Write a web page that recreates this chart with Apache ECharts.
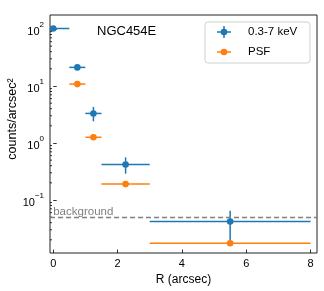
<!DOCTYPE html>
<html>
<head>
<meta charset="utf-8">
<script src="https://cdn.jsdelivr.net/npm/echarts@6/dist/echarts.min.js"></script>
<style>html,body{margin:0;padding:0;background:#fff;}#c{width:324px;height:291px;}</style>
</head>
<body>
<div id="c"></div>
<script>
// ---- data ----
const radius = [0, 0.75, 1.25, 2.25, 5.5];          // arcsec, bin centres
const radiusErr = [0.5, 0.25, 0.25, 0.75, 2.5];     // half bin widths
const bandValue = [102, 21.2, 3.3, 0.42, 0.042];    // 0.3-7 keV counts/arcsec^2
const bandLow = [95, 19.5, 2.4, 0.29, 0.018];
const bandHigh = [110, 23, 4.3, 0.56, 0.065];
const psfValue = [null, 10.8, 1.26, 0.19, 0.0174];  // PSF counts/arcsec^2
const backgroundLevel = 0.046;
const xTicks = [0, 2, 4, 6, 8];
const yMinorTicks = [0.02,0.03,0.04,0.05,0.06,0.07,0.08,0.09,
                     0.2,0.3,0.4,0.5,0.6,0.7,0.8,0.9,
                     2,3,4,5,6,7,8,9,20,30,40,50,60,70,80,90];
const X_MIN = -0.1, X_MAX = 8.2;
const Y_MIN = 0.01175, Y_MAX = 176;

const BLUE = '#1f77b4', ORANGE = '#ff7f0e';
const FONT = 'Liberation Sans';

const bandData = radius.map((r, i) => [r, bandValue[i], radiusErr[i], bandLow[i], bandHigh[i]]);
const psfData = radius.map((r, i) => [r, psfValue[i], radiusErr[i]]).filter(d => d[1] != null);

function errRender(color) {
  return function (params, api) {
    const x = api.value(0), y = api.value(1), xe = api.value(2);
    const ylo = api.value(3), yhi = api.value(4);
    const xl = Math.max(x - xe, X_MIN), xr = Math.min(x + xe, X_MAX);
    const pL = api.coord([xl, y]), pR = api.coord([xr, y]), pC = api.coord([x, y]);
    const children = [{
      type: 'line', shape: {x1: pL[0], y1: pL[1], x2: pR[0], y2: pR[1]},
      style: {stroke: color, lineWidth: 1.5}
    }];
    if (!isNaN(ylo) && !isNaN(yhi)) {
      const pT = api.coord([x, yhi]), pB = api.coord([x, ylo]);
      children.push({type: 'line', shape: {x1: pT[0], y1: pT[1], x2: pB[0], y2: pB[1]},
        style: {stroke: color, lineWidth: 1.5}});
    }
    children.push({type: 'circle', shape: {cx: pC[0], cy: pC[1], r: 3.3}, style: {fill: color}});
    return {type: 'group', children};
  };
}

function minorRender(params, api) {
  const p = api.coord([X_MIN, api.value(0)]);
  return {type: 'line', shape: {x1: p[0], y1: p[1], x2: p[0] + 2, y2: p[1]},
    style: {stroke: '#000', lineWidth: 0.8}};
}

const chart = echarts.init(document.getElementById('c'), null, {renderer: 'canvas'});
chart.setOption({
  animation: false,
  textStyle: {fontFamily: FONT},
  grid: {left: 50, right: 7, top: 15, bottom: 38, outerBoundsMode: 'none', containLabel: false,
    show: true, borderColor: '#222', borderWidth: 1, backgroundColor: 'transparent'},
  xAxis: {
    type: 'value', min: X_MIN, max: X_MAX,
    name: 'R (arcsec)', nameLocation: 'middle', nameGap: 21, nameMoveOverlap: false,
    nameTextStyle: {fontSize: 12, color: '#000', fontFamily: FONT},
    axisLine: {show: false},
    axisTick: {show: true, inside: true, length: 3.5, customValues: xTicks, lineStyle: {color: '#000', width: 0.8}},
    axisLabel: {customValues: xTicks, fontSize: 11, color: '#000', margin: 5, fontFamily: FONT},
    splitLine: {show: false}
  },
  yAxis: {
    type: 'log', logBase: 10, min: Y_MIN, max: Y_MAX,
    name: 'counts/arcsec²', nameLocation: 'middle', nameGap: 31, nameMoveOverlap: false,
    nameTextStyle: {fontSize: 12.5, color: '#000', fontFamily: FONT, padding: [0, 0, 0, 30]},
    axisLine: {show: false},
    axisTick: {show: true, inside: true, length: 3.5, lineStyle: {color: '#000', width: 0.8}},
    axisLabel: {
      showMinLabel: false, showMaxLabel: false, margin: 6, color: '#000',
      formatter: function (v) {
        const e = Math.log10(v);
        const r = Math.round(e);
        if (Math.abs(e - r) > 0.01) return '';
        return '{b|10}{s|' + (r < 0 ? '\u2212' + (-r) : r) + '}';
      },
      rich: {
        b: {fontSize: 11, fontFamily: FONT, color: '#000', lineHeight: 16, verticalAlign: 'bottom'},
        s: {fontSize: 8, fontFamily: FONT, color: '#000', lineHeight: 10, verticalAlign: 'top'}
      }
    },
    splitLine: {show: false}
  },
  series: [
    {
      type: 'custom', name: 'yminor', renderItem: minorRender, silent: true,
      data: yMinorTicks.map(v => [v]), encode: {y: 0}, z: 1
    },
    {
      type: 'custom', name: '0.3-7 keV', renderItem: errRender(BLUE),
      data: bandData, encode: {x: 0, y: 1}, z: 3,
      markLine: {
        silent: true, symbol: 'none',
        lineStyle: {color: '#808080', type: [5, 3], width: 1.3},
        label: {show: false},
        data: [{yAxis: backgroundLevel}]
      }
    },
    {
      type: 'custom', name: 'PSF', renderItem: errRender(ORANGE),
      data: psfData, encode: {x: 0, y: 1}, z: 4
    }
  ],
  graphic: [
    {type: 'text', left: 97, top: 25, style: {text: 'NGC454E', fontSize: 13, fontFamily: FONT, fill: '#000'}},
    {type: 'rect', shape: {x: 205, y: 22, width: 105, height: 41, r: 3},
      style: {fill: 'rgba(255,255,255,0.8)', stroke: '#d0d0d0', lineWidth: 1}, z: 10},
    {type: 'line', shape: {x1: 217, y1: 32, x2: 231, y2: 32}, style: {stroke: BLUE, lineWidth: 1.5}, z: 11},
    {type: 'line', shape: {x1: 224, y1: 26, x2: 224, y2: 38}, style: {stroke: BLUE, lineWidth: 1.5}, z: 11},
    {type: 'circle', shape: {cx: 224, cy: 32, r: 3.3}, style: {fill: BLUE}, z: 11},
    {type: 'line', shape: {x1: 217, y1: 52, x2: 231, y2: 52}, style: {stroke: ORANGE, lineWidth: 1.5}, z: 11},
    {type: 'circle', shape: {cx: 224, cy: 52, r: 3.3}, style: {fill: ORANGE}, z: 11},
    {type: 'text', left: 248, top: 26, style: {text: '0.3-7 keV', fontSize: 11.5, fontFamily: FONT, fill: '#000'}, z: 11},
    {type: 'text', left: 248, top: 46, style: {text: 'PSF', fontSize: 11.5, fontFamily: FONT, fill: '#000'}, z: 11}
  ]
});
// "background" label placed just above the dashed level, using the axis scale
const bgPix = chart.convertToPixel({yAxisIndex: 0}, backgroundLevel);
const x0Pix = chart.convertToPixel({xAxisIndex: 0}, 0);
chart.setOption({
  graphic: [
    {type: 'text', id: 'bgLabel', x: x0Pix, y: bgPix - 1,
      style: {text: 'background', fontSize: 11.5, fontFamily: FONT, fill: '#808080', verticalAlign: 'bottom', align: 'left'}}
  ]
});
</script>
</body>
</html>
